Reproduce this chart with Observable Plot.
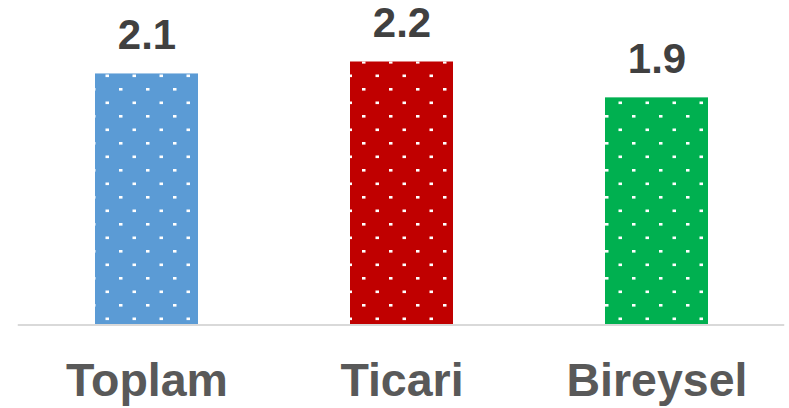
<!DOCTYPE html>
<html>
<head>
<meta charset="utf-8">
<script src="https://cdn.jsdelivr.net/npm/d3@7"></script>
<script src="https://cdn.jsdelivr.net/npm/@observablehq/plot@0.6"></script>
<style>
  html, body { margin: 0; padding: 0; background: #fff; }
  svg { display: block; overflow: visible; }
</style>
</head>
<body>
<div id="chart"></div>
<script>
const categories = ["Toplam", "Ticari", "Bireysel"];
const values = [2.1, 2.2, 1.9];
const colors = ["#5b9bd5", "#c00000", "#00b050"];
const valueLabels = ["2.1", "2.2", "1.9"];

const data = categories.map((c, i) => ({category: c, value: values[i], color: colors[i], label: valueLabels[i]}));

const chart = Plot.plot({
  width: 789,
  height: 408,
  marginTop: 61.5,
  marginBottom: 83.5,
  marginLeft: 17.75,
  marginRight: 4.75,
  style: {fontFamily: "'Liberation Sans', Arial, sans-serif", background: "#fff"},
  x: {domain: categories, paddingInner: 0.597, paddingOuter: 0.2985, label: null},
  y: {domain: [0, 2.2], axis: null},
  marks: [
    Plot.barY(data, {x: "category", y: "value", fill: "color"}),
    Plot.barY(data, {x: "category", y: "value", fill: "url(#dots)"}),
    Plot.ruleY([0], {stroke: "#d9d9d9", strokeWidth: 2}),
    Plot.text(data, {x: "category", y: "value", text: "label", lineAnchor: "bottom", dy: -25,
      fontSize: 42, fontWeight: "bold", fill: "#404040"}),
    Plot.axisX({tickSize: 0, tickPadding: 38, fontSize: 46.5, fontWeight: "bold", color: "#595959", label: null})
  ]
});

const svg = d3.select(chart);
const defs = svg.insert("defs", ":first-child");
const pat = defs.append("pattern")
  .attr("id", "dots")
  .attr("patternUnits", "userSpaceOnUse")
  .attr("x", 11).attr("y", 61)
  .attr("width", 27).attr("height", 27);
pat.append("rect").attr("x", 0).attr("y", 0).attr("width", 3.5).attr("height", 2.6).attr("fill", "#fff");
pat.append("rect").attr("x", 13.5).attr("y", 13.5).attr("width", 3.5).attr("height", 2.6).attr("fill", "#fff");

document.getElementById("chart").appendChild(chart);
</script>
</body>
</html>
